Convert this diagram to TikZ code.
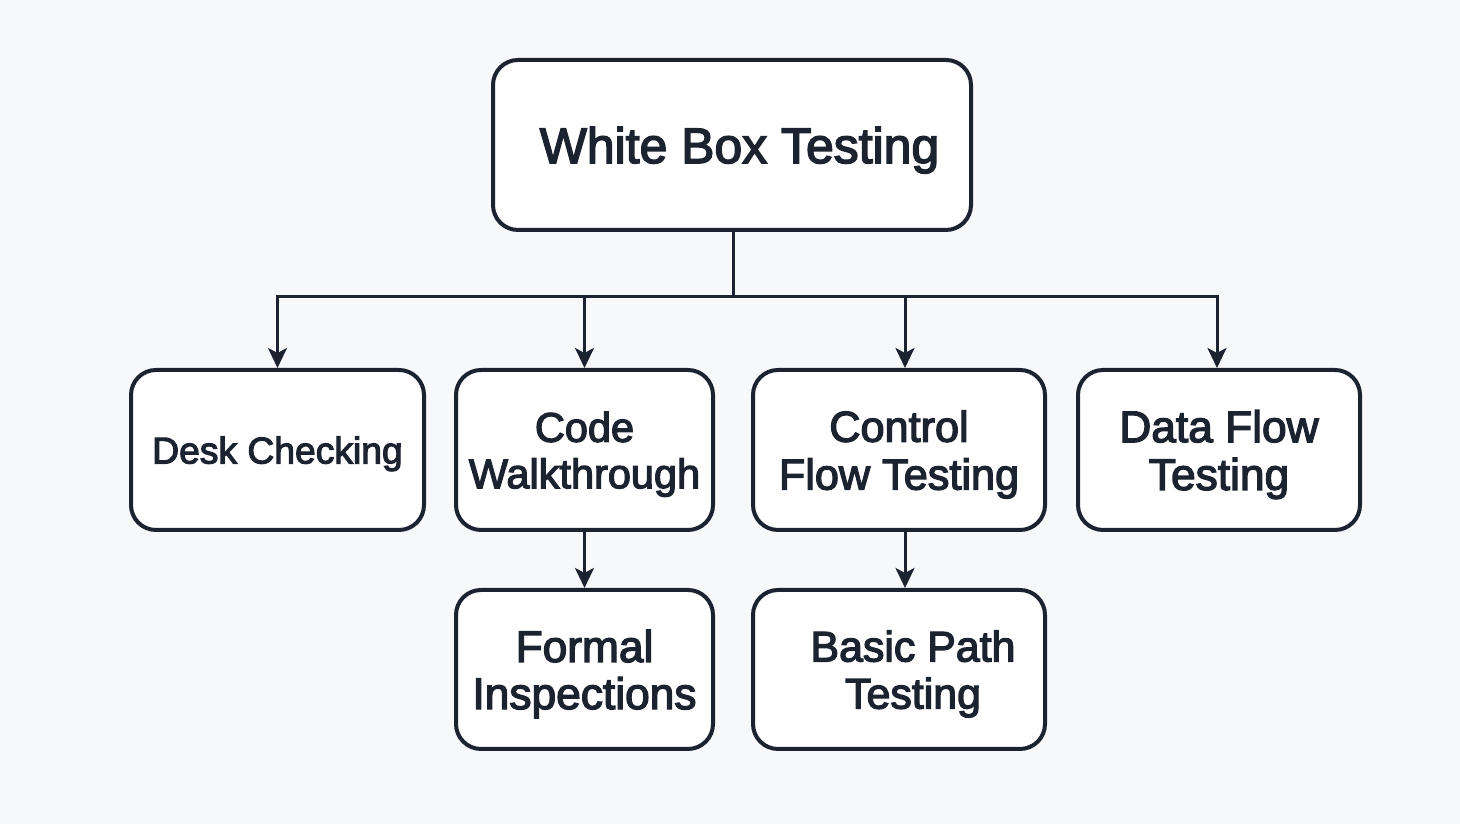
\documentclass[tikz,border=0pt]{standalone}
\usepackage{fontspec}
\newfontfamily\boxfont{Liberation Sans}[FakeBold=3]
\usetikzlibrary{arrows.meta,positioning}
\definecolor{ink}{HTML}{1C2330}
\definecolor{paper}{HTML}{F7F8FA}
\tikzset{
  box/.style={draw=ink,fill=white,line width=0.04cm,rounded corners=0.25cm,
    align=center,text=ink,inner sep=0pt,text depth=0pt,
    minimum width=2.9cm,minimum height=1.6cm},
  link/.style={draw=ink,line width=0.03cm,
    -{Stealth[length=0.2cm,width=0.19cm,inset=0.05cm]}}
}
\begin{document}
\begin{tikzpicture}
  \fill[paper] (0,0) rectangle (14.6,-8.24);
  \useasboundingbox (0,0) rectangle (14.6,-8.24);
  \node[box,minimum width=4.78cm,minimum height=1.7cm,
    font=\fontsize{14.2}{15}\boxfont] (wbt) at (7.32,-1.45)
    {\hspace{0.15cm}White Box Testing};
  \node[box,minimum width=2.93cm,font=\fontsize{10.6}{11.5}\boxfont]
    (desk) at (2.775,-4.5) {Desk Checking};
  \node[box,minimum width=2.57cm,font=\fontsize{11.8}{13.2}\boxfont]
    (walk) at (5.845,-4.5) {Code\\Walkthrough};
  \node[box,minimum width=2.92cm,font=\fontsize{12.3}{13.6}\boxfont]
    (cft) at (8.99,-4.5) {Control\\Flow Testing};
  \node[box,minimum width=2.82cm,font=\fontsize{12.6}{13.6}\boxfont]
    (dft) at (12.19,-4.5) {Data Flow\\Testing};
  \node[box,minimum width=2.57cm,minimum height=1.59cm,
    font=\fontsize{12.6}{13.4}\boxfont] (insp) at (5.845,-6.695)
    {Formal\\Inspections};
  \node[box,minimum width=2.92cm,minimum height=1.59cm,
    font=\fontsize{12.2}{13.4}\boxfont] (bpt) at (8.99,-6.695)
    {\hspace{0.28cm}Basic Path\\\hspace{0.28cm}Testing};
  % branch from the root
  \coordinate (fork) at (7.33,-2.97);
  \draw[ink,line width=0.03cm] (wbt.south -| fork) -- (fork);
  \draw[link] (fork) -| (desk);
  \draw[link] (fork) -| (walk);
  \draw[link] (fork) -| ([xshift=0.06cm]cft.north);
  \draw[link] (fork) -| ([xshift=-0.02cm]dft.north);
  % lower level
  \draw[link] (walk) -- (insp);
  \draw[link] ([xshift=0.06cm]cft.south) -- ([xshift=0.06cm]bpt.north);
\end{tikzpicture}
\end{document}
